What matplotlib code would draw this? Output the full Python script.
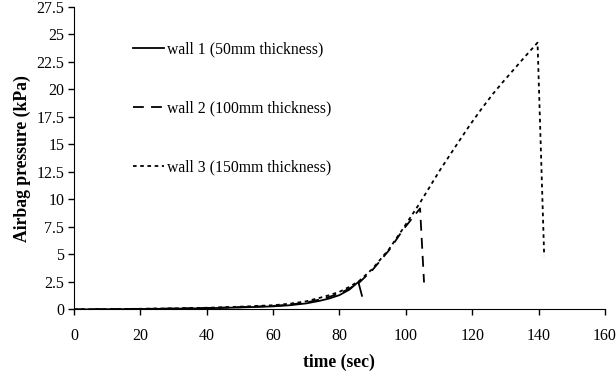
import numpy as np
import matplotlib.pyplot as plt

plt.rcParams['font.family'] = ['Liberation Serif', 'DejaVu Serif']

# airbag pressure history against the three wall thicknesses
t_wall1 = [0, 10, 20, 30, 40, 50, 60, 65, 70, 74, 77, 80, 83, 85.7, 86.8]
p_wall1 = [0, 0.02, 0.04, 0.07, 0.11, 0.18, 0.28, 0.38, 0.55, 0.78, 1.0, 1.3, 1.8, 2.5, 1.24]

t_wall2 = [0, 10, 20, 30, 40, 50, 60, 65, 70, 74, 77, 80, 83, 86, 90, 95, 99.2, 104.3, 105.5]
p_wall2 = [0, 0.02, 0.05, 0.08, 0.13, 0.21, 0.32, 0.44, 0.63, 0.9, 1.15, 1.45, 1.9, 2.45, 3.6, 5.4, 7.25, 9.18, 2.45]

t_wall3 = [0, 10, 20, 30, 40, 50, 60, 65, 70, 74, 77, 80, 83, 86, 90, 95, 99.2, 104.3, 110.3, 115.3,
           119.3, 123, 126.3, 129.5, 132.4, 136, 139.7, 141.7]
p_wall3 = [0, 0.03, 0.06, 0.1, 0.15, 0.25, 0.38, 0.52, 0.74, 1.05, 1.3, 1.6, 2.05, 2.6, 3.7, 5.5, 7.36, 9.7,
           12.66, 14.95, 16.75, 18.3, 19.6, 20.75, 21.75, 23.0, 24.24, 4.85]

labels = ['wall 1 (50mm thickness)', 'wall 2 (100mm thickness)', 'wall 3 (150mm thickness)']

fig = plt.figure(figsize=(6.16, 3.76), dpi=100)
ax = fig.add_axes([0.120, 0.177, 0.862, 0.805])

ax.plot(t_wall1, p_wall1, color='black', lw=1.3, label=labels[0])
ax.plot(t_wall2, p_wall2, color='black', lw=1.3, linestyle=(0, (6, 4)), label=labels[1])
ax.plot(t_wall3, p_wall3, color='black', lw=1.3, linestyle=(0, (2, 2)), label=labels[2])

ax.set_xlim(0, 160)
ax.set_ylim(0, 27.5)
ax.set_xticks(np.arange(0, 161, 20))
ax.set_yticks(np.arange(0, 27.6, 2.5))
ax.set_yticklabels(['%g' % v for v in np.arange(0, 27.6, 2.5)])
ax.tick_params(direction='out', length=4, width=1, labelsize=11.5, pad=3)
ax.tick_params(axis='x', pad=9)

for s in ['top', 'right']:
    ax.spines[s].set_visible(False)

ax.set_xlabel('time (sec)', fontsize=12.7, fontweight='bold', labelpad=7)
ax.set_ylabel('Airbag pressure (kPa)', fontsize=12.7, fontweight='bold', labelpad=4)

fig.legend(loc='upper left', bbox_to_anchor=(133 / 616, 1 - 41 / 376), frameon=False,
           fontsize=11.3, handlelength=2.0, handletextpad=0.15, labelspacing=2.75, borderpad=0,
           borderaxespad=0)

fig.savefig('out.png', dpi=100)
